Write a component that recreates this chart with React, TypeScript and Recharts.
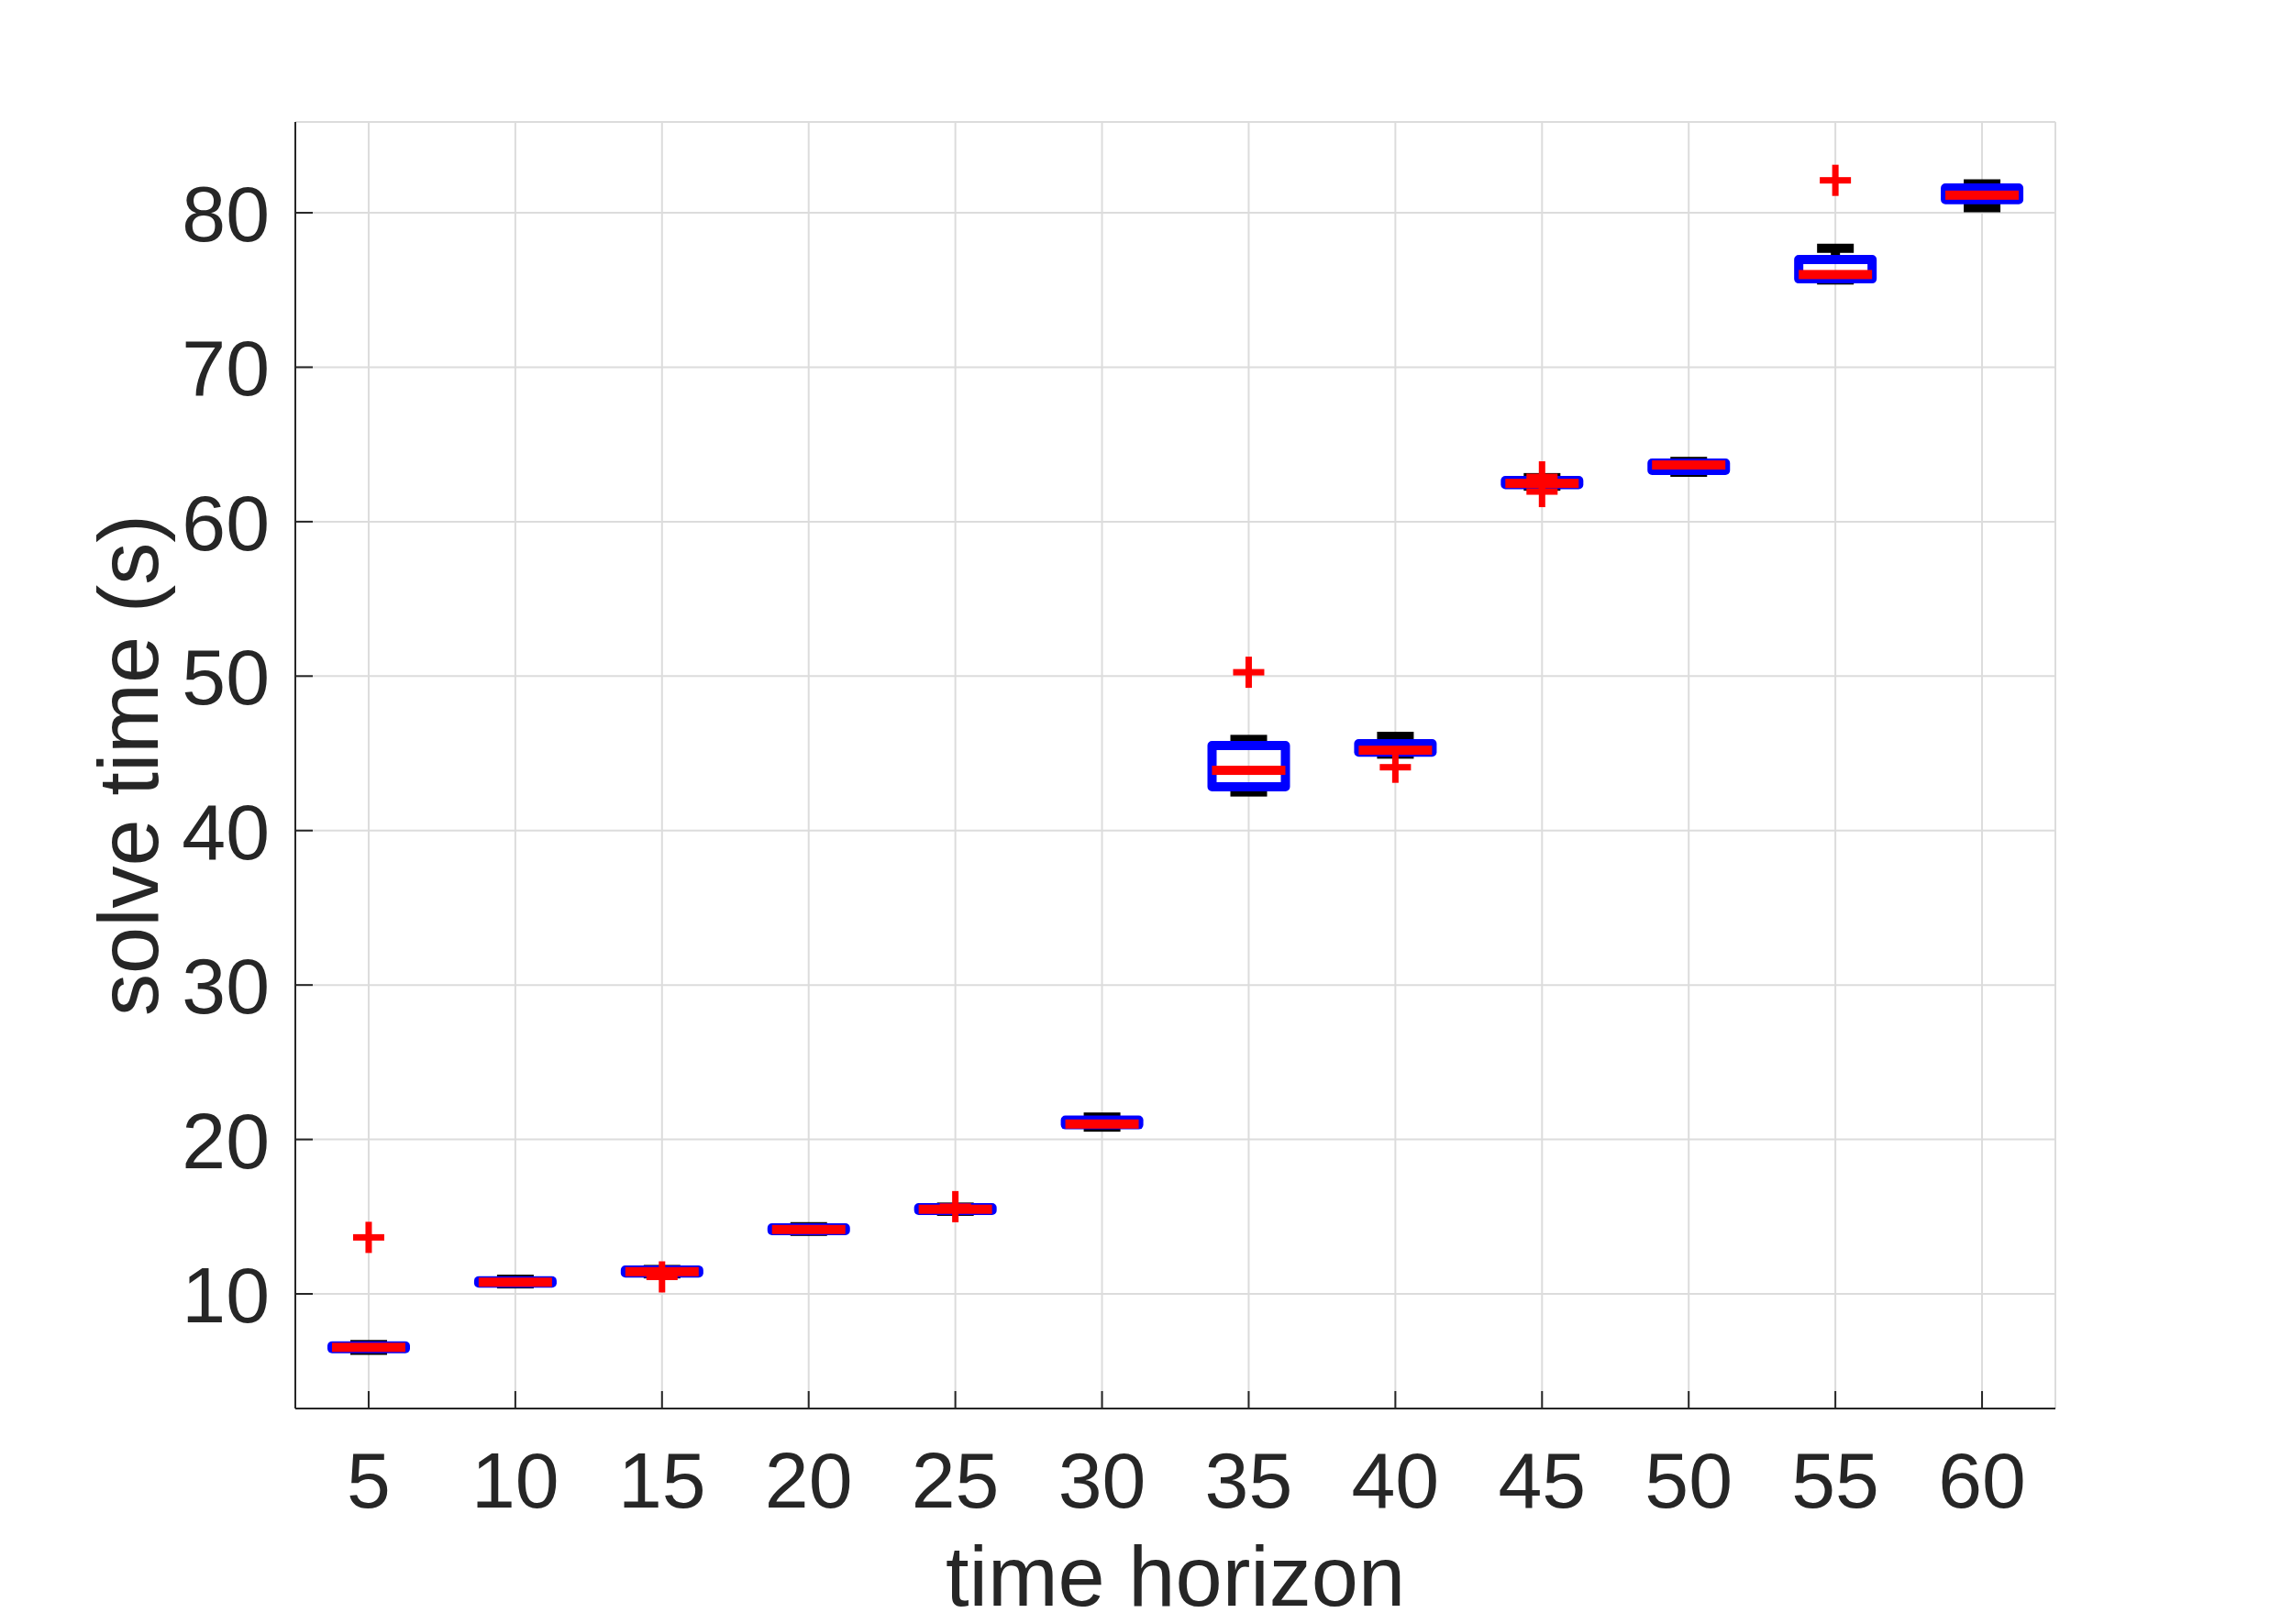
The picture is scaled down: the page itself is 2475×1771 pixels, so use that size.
import React from "react";
import {
  Bar,
  CartesianGrid,
  ComposedChart,
  Scatter,
  XAxis,
  YAxis,
} from "recharts";

// time horizons (categories) and box statistics
const horizons = ["5", "10", "15", "20", "25", "30", "35", "40", "45", "50", "55", "60"];
const whiskerLow = [6.35, 10.65, 11.3, 14.05, 15.35, 20.8, 42.5, 44.95, 62.3, 63.2, 75.65, 80.33];
const q1 = [6.45, 10.7, 11.35, 14.1, 15.4, 20.95, 42.83, 45.08, 62.4, 63.32, 75.72, 80.85];
const median = [6.54, 10.76, 11.44, 14.17, 15.48, 21.0, 43.9, 45.2, 62.48, 63.67, 76.0, 81.14];
const q3 = [6.63, 10.85, 11.55, 14.28, 15.58, 21.25, 45.5, 45.62, 62.66, 63.79, 76.97, 81.6];
const whiskerHigh = [6.72, 10.95, 11.58, 14.35, 15.62, 21.45, 45.9, 46.1, 62.85, 63.9, 77.7, 81.87];
const outlierA = [13.66, null, 11.1, null, 15.65, null, 50.25, 44.1, 62.9, null, 82.1, null];
const outlierB = [null, null, null, null, null, null, null, null, 61.95, null, null, null];

const yTicks = [10, 20, 30, 40, 50, 60, 70, 80];
const yDomain = [2.58, 85.88];

const data = horizons.map((h, i) => ({
  h,
  wlo: whiskerLow[i],
  q1: q1[i],
  med: median[i],
  q3: q3[i],
  whi: whiskerHigh[i],
  outA: outlierA[i],
  outB: outlierB[i],
}));

const INK = "#262626";
const FONT = "'Liberation Sans', Arial, Helvetica, sans-serif";

const BottomTick = (props: any) => {
  const { x, y, payload } = props;
  return (
    <g>
      <line x1={x} x2={x} y1={y} y2={y - 19} stroke={INK} strokeWidth={2} />
      <text x={x} y={y + 108} textAnchor="middle" fill={INK} fontSize={86} fontFamily={FONT}>
        {payload.value}
      </text>
    </g>
  );
};

const TopTick = (props: any) => {
  const { x, y } = props;
  return <line x1={x} x2={x} y1={y} y2={y + 19} stroke={INK} strokeWidth={2} />;
};

const LeftTick = (props: any) => {
  const { x, y, payload } = props;
  return (
    <g>
      <line x1={x} x2={x + 19} y1={y} y2={y} stroke={INK} strokeWidth={2} />
      <text x={x - 28} y={y + 31} textAnchor="end" fill={INK} fontSize={86} fontFamily={FONT}>
        {payload.value}
      </text>
    </g>
  );
};

const RightTick = (props: any) => {
  const { x, y } = props;
  return <line x1={x} x2={x - 19} y1={y} y2={y} stroke={INK} strokeWidth={2} />;
};

const XLabel = (props: any) => {
  const { viewBox } = props;
  return (
    <text
      x={viewBox.x + viewBox.width / 2}
      y={viewBox.y + 215}
      textAnchor="middle"
      fill={INK}
      fontSize={92}
      fontFamily={FONT}
    >
      time horizon
    </text>
  );
};

const YLabel = (props: any) => {
  const { viewBox } = props;
  const x = viewBox.x + 172;
  const y = viewBox.y + viewBox.height / 2;
  return (
    <text
      x={x}
      y={y}
      transform={`rotate(-90, ${x}, ${y})`}
      textAnchor="middle"
      fill={INK}
      fontSize={92}
      fontFamily={FONT}
    >
      solve time (s)
    </text>
  );
};

// whisker from q3 up to the upper adjacent value, cap at the top
const UpperWhisker = (props: any) => {
  const { x, y, width, height } = props;
  const cx = x + width / 2;
  return (
    <g fill="#000">
      <rect x={cx - 5} y={y} width={10} height={height} />
      <rect x={x} y={y - 5} width={width} height={10} />
    </g>
  );
};

// whisker from the lower adjacent value up to q1, cap at the bottom
const LowerWhisker = (props: any) => {
  const { x, y, width, height } = props;
  const cx = x + width / 2;
  return (
    <g fill="#000">
      <rect x={cx - 5} y={y} width={10} height={height} />
      <rect x={x} y={y + height - 5} width={width} height={10} />
    </g>
  );
};

const BoxShape = (props: any) => {
  const { x, y, width, height } = props;
  return (
    <rect
      x={x}
      y={y}
      width={width}
      height={height}
      fill="none"
      stroke="#0000ff"
      strokeWidth={10}
      strokeLinejoin="round"
    />
  );
};

const MedianShape = (props: any) => {
  const { cx, cy } = props;
  return <rect x={cx - 40} y={cy - 5} width={80} height={10} fill="#ff0000" />;
};

const plusShape = (key: string) => (props: any) => {
  const { cx, cy, payload } = props;
  if (payload == null || payload[key] == null) return <g />;
  return (
    <g fill="#ff0000">
      <rect x={cx - 17} y={cy - 3.5} width={34} height={7} />
      <rect x={cx - 3.5} y={cy - 17} width={7} height={34} />
    </g>
  );
};

export default function App() {
  return (
    <div style={{ position: "absolute", left: 0, top: 0, width: 2475, height: 1771, background: "#fff" }}>
      <ComposedChart
        width={2475}
        height={1771}
        data={data}
        margin={{ top: 133, right: 234, bottom: 0, left: 0 }}
      >
        <CartesianGrid stroke="#dcdcdc" strokeWidth={2} />
        <XAxis
          dataKey="h"
          type="category"
          height={235}
          interval={0}
          tickSize={0}
          tickMargin={0}
          tickLine={false}
          tick={<BottomTick />}
          axisLine={{ stroke: INK, strokeWidth: 2 }}
          label={<XLabel />}
        />
        <XAxis
          xAxisId="top"
          dataKey="h"
          type="category"
          orientation="top"
          height={0}
          interval={0}
          tickSize={0}
          tickMargin={0}
          tickLine={false}
          tick={<TopTick />}
          axisLine={{ stroke: INK, strokeWidth: 2 }}
        />
        <XAxis xAxisId="upper" dataKey="h" type="category" hide />
        <XAxis xAxisId="box" dataKey="h" type="category" hide />
        <YAxis
          type="number"
          domain={yDomain}
          ticks={yTicks}
          allowDataOverflow
          width={322}
          interval={0}
          tickSize={0}
          tickMargin={0}
          tickLine={false}
          tick={<LeftTick />}
          axisLine={{ stroke: INK, strokeWidth: 2 }}
          label={<YLabel />}
        />
        <YAxis
          yAxisId="right"
          orientation="right"
          type="number"
          domain={yDomain}
          ticks={yTicks}
          allowDataOverflow
          width={0}
          interval={0}
          tickSize={0}
          tickMargin={0}
          tickLine={false}
          tick={<RightTick />}
          axisLine={{ stroke: INK, strokeWidth: 2 }}
        />
        <Bar
          dataKey={(d: any) => [d.wlo, d.q1]}
          barSize={40}
          shape={<LowerWhisker />}
          isAnimationActive={false}
        />
        <Bar
          xAxisId="upper"
          dataKey={(d: any) => [d.q3, d.whi]}
          barSize={40}
          shape={<UpperWhisker />}
          isAnimationActive={false}
        />
        <Bar
          xAxisId="box"
          dataKey={(d: any) => [d.q1, d.q3]}
          barSize={80}
          shape={<BoxShape />}
          isAnimationActive={false}
        />
        <Scatter dataKey="med" shape={<MedianShape />} isAnimationActive={false} />
        <Scatter dataKey="outA" shape={plusShape("outA")} isAnimationActive={false} />
        <Scatter dataKey="outB" shape={plusShape("outB")} isAnimationActive={false} />
      </ComposedChart>
    </div>
  );
}
